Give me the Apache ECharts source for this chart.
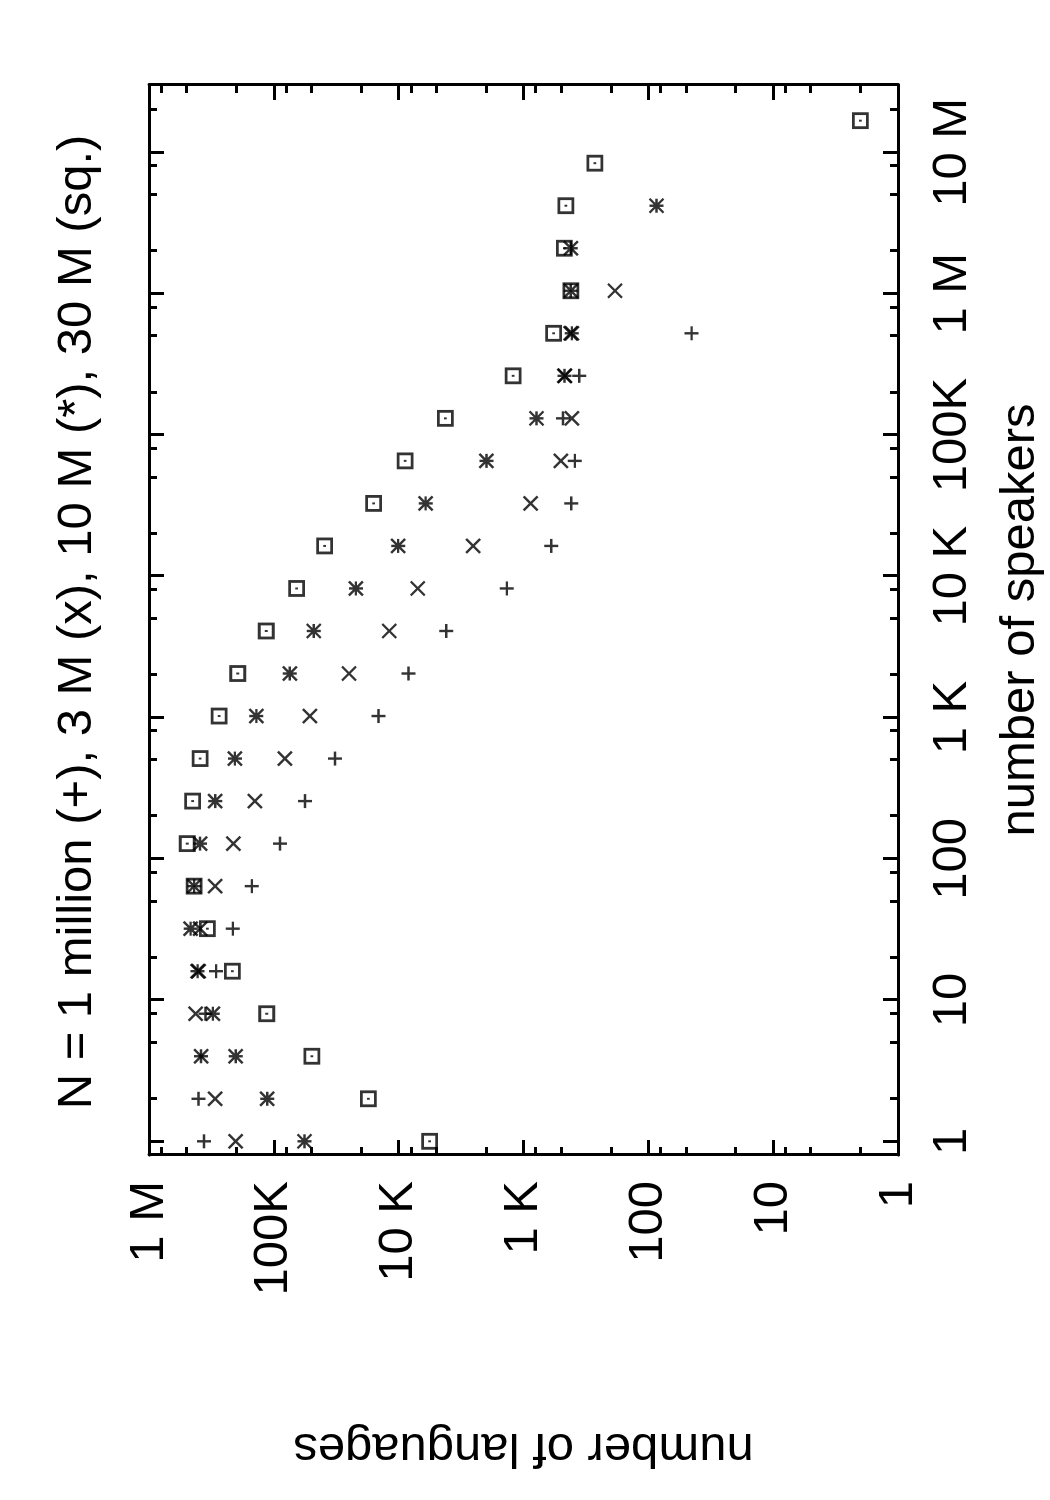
<!DOCTYPE html>
<html>
<head>
<meta charset="utf-8">
<script src="https://cdn.jsdelivr.net/npm/echarts@6/dist/echarts.min.js"></script>
<style>
  html, body { margin: 0; padding: 0; background: #fff; overflow: hidden; }
  #page { position: relative; width: 1050px; height: 1500px; overflow: hidden; }
  /* the plot is drawn landscape and turned a quarter turn, like the printed page */
  #chart {
    position: absolute; left: 0; top: 0; width: 1500px; height: 1050px;
    transform-origin: 0 0; transform: translate(0, 1500px) rotate(-90deg);
  }
</style>
</head>
<body>
<div id="page"><div id="chart"></div></div>
<script>
var speakers = [1, 2, 4, 8, 16, 32, 64, 128, 256, 512, 1024, 2048, 4096, 8192, 16384,
  32768, 65536, 131072, 262144, 524288, 1048576, 2097152, 4194304, 8388608, 16777216];

// number of languages per speaker bin, one list per population size
var plus1M = [363000, 401000, 383000, 353000, 290000, 213000, 150000, 89300, 56300, 32400,
  14500, 8350, 4160, 1360, 600, 414, 388, 483, 358, 45, null, null, null, null, null];
var cross3M = [202000, 295000, 383000, 423000, 400000, 390000, 295000, 211000, 142000, 81600,
  51400, 25000, 11900, 7030, 2530, 877, 501, 410, 465, 420, 185, null, null, null, null];
var star10M = [56800, 113000, 202000, 308000, 408000, 464000, 435000, 390000, 295000, 205000,
  138000, 74500, 47900, 22000, 10100, 6080, 1980, 787, 470, 410, 418, 418, 86, null, null];
var square30M = [5650, 17500, 49600, 114000, 215000, 341000, 435000, 494000, 447000, 390000,
  274000, 194500, 115000, 65700, 39200, 15900, 8890, 4230, 1210, 573, 418, 470, 457, 268, 2];

var speakerTicks = [1, 10, 100, 1000, 10000, 100000, 1000000, 10000000];
var speakerLabels = ['1', '10', '100', '1 K', '10 K', '100K', '1 M', '10 M'];
var speakerMinor = [2, 5, 8, 20, 50, 80, 200, 500, 800, 2000, 5000, 8000, 20000, 50000, 80000,
  200000, 500000, 800000, 2000000, 5000000, 8000000, 20000000];
var languageTicks = [1, 10, 100, 1000, 10000, 100000, 1000000];
var languageLabels = ['1', '10', '100', '1 K', '10 K', '100K', '1 M'];
var languageMinor = [2, 5, 8, 20, 50, 80, 200, 500, 800, 2000, 5000, 8000, 20000, 50000, 80000,
  200000, 500000, 800000];

var FONT = 'Liberation Sans, Arial, Helvetica, sans-serif';
var FS = 49;

function labelOf(ticks, labels) {
  return function(v) {
    for (var i = 0; i < ticks.length; i++) {
      if (Math.abs(Math.log10(v) - Math.log10(ticks[i])) < 1e-6) return labels[i];
    }
    return '';
  };
}

function pairs(vals) {
  var out = [];
  speakers.forEach(function(s, i) {
    if (vals[i] != null) out.push([s, vals[i]]);
  });
  return out;
}

function frameAxis(pos, min, max, ticks, len, withLine) {
  return {
    type: 'log', position: pos, min: min, max: max,
    axisLine: { show: withLine, lineStyle: { color: '#000', width: 3 } },
    axisTick: { show: true, inside: true, length: len, customValues: ticks,
      lineStyle: { color: '#000', width: 3 } },
    axisLabel: { show: false },
    splitLine: { show: false }
  };
}

var xMain = frameAxis('bottom', 0.8, 3e7, speakerTicks, 15, true);
xMain.axisLabel = {
  show: true, customValues: speakerTicks, formatter: labelOf(speakerTicks, speakerLabels),
  margin: 30, color: '#000', fontFamily: FONT, fontSize: FS
};
xMain.name = 'number of speakers';
xMain.nameLocation = 'middle';
xMain.nameGap = 98;
xMain.nameTextStyle = { color: '#000', fontFamily: FONT, fontSize: FS };

var yMain = frameAxis('left', 1, 1e6, languageTicks, 15, true);
yMain.axisLabel = {
  show: true, customValues: languageTicks, formatter: labelOf(languageTicks, languageLabels),
  margin: 26, color: '#000', fontFamily: FONT, fontSize: FS
};
yMain.name = 'number of languages';
yMain.nameLocation = 'middle';
yMain.nameRotate = 90;
yMain.nameGap = 268;
yMain.nameTextStyle = { color: '#000', fontFamily: FONT, fontSize: FS };

function marks(name, vals, path, width) {
  return {
    name: name, type: 'scatter', xAxisIndex: 0, yAxisIndex: 0,
    data: pairs(vals), symbol: path, symbolSize: 14,
    itemStyle: { color: 'transparent', borderColor: '#000', borderWidth: width },
    emphasis: { disabled: true }, silent: true
  };
}

var chart = echarts.init(document.getElementById('chart'), null, { renderer: 'canvas' });
chart.setOption({
  animation: false,
  backgroundColor: '#fff',
  grid: { left: 345, right: 85, top: 149, bottom: 149 },
  graphic: [{
    type: 'text', x: 878, y: 53,
    style: {
      text: 'N = 1 million (+), 3 M (x), 10 M (*), 30 M (sq.)',
      font: FS + 'px ' + FONT, fill: '#000', textAlign: 'center', textVerticalAlign: 'top'
    }
  }],
  xAxis: [
    xMain,
    frameAxis('bottom', 0.8, 3e7, speakerMinor, 8, false),
    frameAxis('top', 0.8, 3e7, speakerTicks, 15, true),
    frameAxis('top', 0.8, 3e7, speakerMinor, 8, false)
  ],
  yAxis: [
    yMain,
    frameAxis('left', 1, 1e6, languageMinor, 8, false),
    frameAxis('right', 1, 1e6, languageTicks, 15, true),
    frameAxis('right', 1, 1e6, languageMinor, 8, false)
  ],
  series: [
    marks('1 million', plus1M, 'path://M0,5L10,5M5,0L5,10', 2.4),
    marks('3 M', cross3M, 'path://M0,0L10,10M10,0L0,10', 2.4),
    marks('10 M', star10M, 'path://M0,5L10,5M5,0L5,10M0,0L10,10M10,0L0,10', 2.4),
    marks('30 M', square30M, 'path://M0,0L10,0L10,10L0,10ZM4.3,5L5.7,5', 2.8)
  ]
});
</script>
</body>
</html>
